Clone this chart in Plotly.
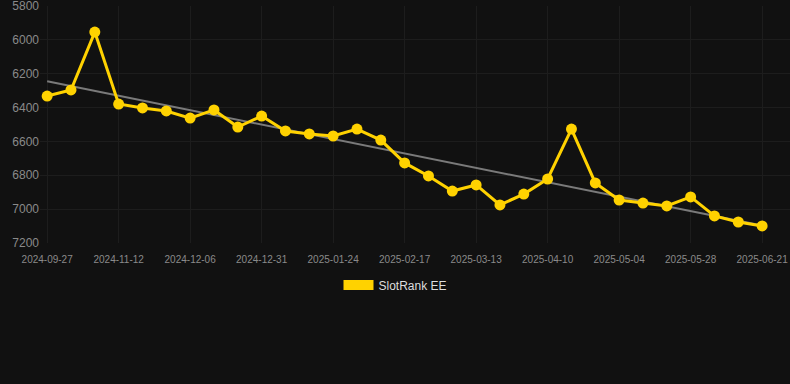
import numpy as np
import plotly.graph_objects as go

dates = [
    "2024-09-27", "2024-10-13", "2024-10-28", "2024-11-12", "2024-11-20", "2024-11-28",
    "2024-12-06", "2024-12-14", "2024-12-22", "2024-12-31", "2025-01-08", "2025-01-16",
    "2025-01-24", "2025-02-01", "2025-02-09", "2025-02-17", "2025-02-25", "2025-03-05",
    "2025-03-13", "2025-03-22", "2025-04-01", "2025-04-10", "2025-04-18", "2025-04-26",
    "2025-05-04", "2025-05-12", "2025-05-20", "2025-05-28", "2025-06-05", "2025-06-13",
    "2025-06-21",
]
rank = [
    6332, 6296, 5954, 6379, 6402, 6420, 6462, 6414, 6515, 6450, 6538, 6556,
    6568, 6527, 6592, 6727, 6804, 6893, 6857, 6975, 6911, 6822, 6527, 6845,
    6946, 6964, 6981, 6928, 7040, 7076, 7099,
]
tick_dates = dates[::3]
y_ticks = [5800, 6000, 6200, 6400, 6600, 6800, 7000, 7200]
series_name = "SlotRank EE"

idx = np.arange(len(rank))
slope, intercept = np.polyfit(idx, rank, 1)
trend = list(slope * idx + intercept)

GOLD = "#FFD200"
fig = go.Figure()
fig.add_trace(go.Scatter(
    x=dates, y=trend, mode="lines",
    line=dict(color="#7a7a7a", width=2), showlegend=False, hoverinfo="skip",
))
fig.add_trace(go.Scatter(
    x=dates, y=rank, mode="lines+markers",
    line=dict(color=GOLD, width=3), marker=dict(color=GOLD, size=11),
    showlegend=False, name=series_name,
))
fig.add_trace(go.Scatter(
    x=[None], y=[None], mode="lines", line=dict(color=GOLD, width=10),
    name=series_name, showlegend=True,
))

fig.update_layout(
    width=790, height=384,
    paper_bgcolor="#111111", plot_bgcolor="#111111",
    margin=dict(l=40, r=0, t=6, b=141),
    font=dict(family="Liberation Sans, Arial, sans-serif", color="#8a8a8a"),
    legend=dict(
        orientation="h", x=0.398, xanchor="left", y=-0.177, yanchor="middle",
        font=dict(size=12, color="#dddddd"), bgcolor="rgba(0,0,0,0)",
    ),
    xaxis=dict(
        type="category", categoryorder="array", categoryarray=dates,
        range=[-0.3, 31.17], tickvals=tick_dates, ticktext=tick_dates,
        tickfont=dict(size=10, color="#8a8a8a"), ticklabelstandoff=9,
        ticklabeloverflow="allow",
        showgrid=True, gridcolor="#1d1d1d", gridwidth=1,
        zeroline=False, showline=False, ticks="",
    ),
    yaxis=dict(
        range=[7200, 5800], tickvals=y_ticks,
        tickfont=dict(size=12, color="#8a8a8a"), ticklabeloverflow="allow",
        showgrid=True, gridcolor="#1d1d1d", gridwidth=1,
        zeroline=False, showline=False, ticks="",
    ),
)

fig.write_html(
    "out.html",
    config={"displayModeBar": False},
    post_script="document.body.style.margin='0';document.body.style.background='#111111';",
)
